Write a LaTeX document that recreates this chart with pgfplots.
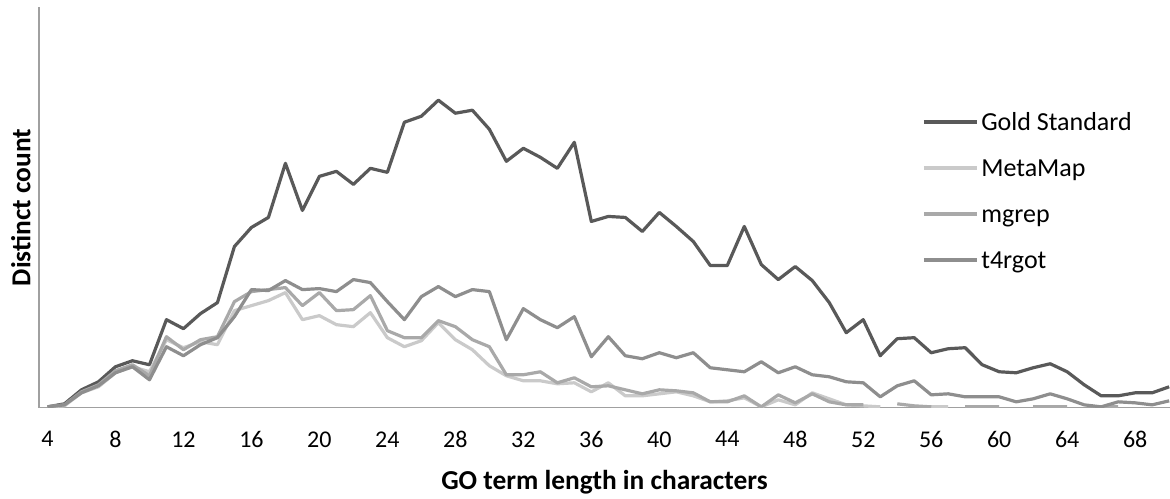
\documentclass[border=0pt]{standalone}
\usepackage{fontspec}
\setmainfont{Carlito}
\usepackage{pgfplots}
\pgfplotsset{compat=1.18}
\definecolor{cgold}{HTML}{595959}
\definecolor{cmeta}{HTML}{CACACA}
\definecolor{cmgrep}{HTML}{A9A9A9}
\definecolor{ct4}{HTML}{8E8E8E}
\definecolor{axisgray}{HTML}{A0A0A0}
\begin{document}
\begin{tikzpicture}
\begin{axis}[name=ax, scale only axis, width=565.7pt, height=200.5pt,
  xmin=3.5, xmax=70.05, ymin=0, ymax=400,
  axis x line*=bottom, axis y line*=left,
  axis line style={draw=axisgray, line width=0.6pt, -},
  xtick={4,8,...,68}, ytick=\empty, major tick length=0pt,
  /pgf/number format/assume math mode=true,
  ticklabel style={font=\fontsize{12}{14}\selectfont, text=black},
  xticklabel style={yshift=-8.3pt},
  xlabel={GO term length in characters},
  xlabel style={font=\fontsize{13.7}{16}\selectfont\bfseries, at={(axis description cs:0.5,0)}, anchor=center, yshift=-37pt},
  ylabel={Distinct count},
  ylabel style={font=\fontsize{13.7}{16}\selectfont\bfseries, at={(axis description cs:-0.016,0.5)}, anchor=center},
  legend style={at={(axis description cs:0.7805,0.7515)}, anchor=north west, draw=none, fill=none,
    font=\fontsize{13}{15}\selectfont, inner sep=0pt, row sep=0pt, column sep=1.5pt,
    nodes={inner sep=0pt, text height=12pt, text depth=11pt}},
  legend cell align=left,
  legend image code/.code={\draw[#1] (0pt,4pt) -- (26.5pt,4pt);},
  every axis plot/.append style={line width=1.6pt, line join=round},
  unbounded coords=jump]
\addplot[cgold] coordinates {(4,1) (5,4) (6,18) (7,26) (8,41) (9,47) (10,43) (11,88) (12,79) (13,94) (14,105) (15,161) (16,180) (17,190) (18,244) (19,197) (20,231) (21,236) (22,223) (23,239) (24,235) (25,285) (26,291) (27,307) (28,294) (29,297) (30,278) (31,246) (32,259) (33,250) (34,239) (35,265) (36,186) (37,191) (38,190) (39,176) (40,195) (41,181) (42,166) (43,142) (44,142) (45,181) (46,143) (47,128) (48,141) (49,127) (50,105) (51,75) (52,88) (53,52) (54,69) (55,70) (56,55) (57,59) (58,60) (59,43) (60,36) (61,35) (62,40) (63,44) (64,36) (65,23) (66,12) (67,12) (68,15) (69,15) (70,21)};
\addlegendentry{Gold Standard}
\addplot[cmeta] coordinates {(4,1) (5,2) (6,15) (7,21) (8,35) (9,41) (10,36) (11,68) (12,60) (13,66) (14,63) (15,97) (16,102) (17,107) (18,115) (19,88) (20,92) (21,83) (22,81) (23,95) (24,70) (25,61) (26,67) (27,85) (28,68) (29,58) (30,42) (31,32) (32,27) (33,27) (34,24) (35,25) (36,16) (37,25) (38,12) (39,12) (40,14) (41,16) (42,12) (43,6) (44,7) (45,10) (46,1) (47,8) (48,3) (49,15) (50,9) (51,3) (52,2) (53,1) (54,nan) (55,nan) (56,1) (57,1) (58,nan)};
\addlegendentry{MetaMap}
\addplot[cmgrep] coordinates {(4,1) (5,3) (6,16) (7,23) (8,37) (9,43) (10,32) (11,71) (12,58) (13,68) (14,71) (15,106) (16,116) (17,118) (18,120) (19,102) (20,115) (21,97) (22,98) (23,112) (24,77) (25,70) (26,70) (27,87) (28,81) (29,68) (30,61) (31,33) (32,33) (33,36) (34,25) (35,30) (36,21) (37,22) (38,18) (39,14) (40,18) (41,17) (42,15) (43,6) (44,6) (45,12) (46,1) (47,13) (48,5) (49,14) (50,6) (51,3) (52,3) (53,nan) (54,4) (55,2) (56,1) (57,nan) (58,1) (59,1) (60,1) (61,nan) (62,1) (63,1) (64,1) (65,nan) (66,1) (67,1) (68,nan)};
\addlegendentry{mgrep}
\addplot[ct4] coordinates {(4,1) (5,3) (6,15) (7,22) (8,35) (9,41) (10,28) (11,61) (12,52) (13,63) (14,70) (15,91) (16,118) (17,117) (18,127) (19,118) (20,119) (21,116) (22,128) (23,125) (24,106) (25,88) (26,111) (27,121) (28,111) (29,118) (30,116) (31,68) (32,99) (33,88) (34,80) (35,91) (36,51) (37,71) (38,52) (39,49) (40,55) (41,50) (42,55) (43,40) (44,38) (45,36) (46,46) (47,35) (48,41) (49,33) (50,31) (51,26) (52,25) (53,11) (54,22) (55,27) (56,13) (57,14) (58,11) (59,11) (60,11) (61,6) (62,9) (63,14) (64,9) (65,3) (66,1) (67,6) (68,5) (69,3) (70,7)};
\addlegendentry{t4rgot}
\end{axis}
\pgfresetboundingbox
\path[use as bounding box] ([xshift=-19.5pt,yshift=-45.5pt]ax.south west) rectangle ([yshift=3.5pt]ax.north east);
\end{tikzpicture}
\end{document}
